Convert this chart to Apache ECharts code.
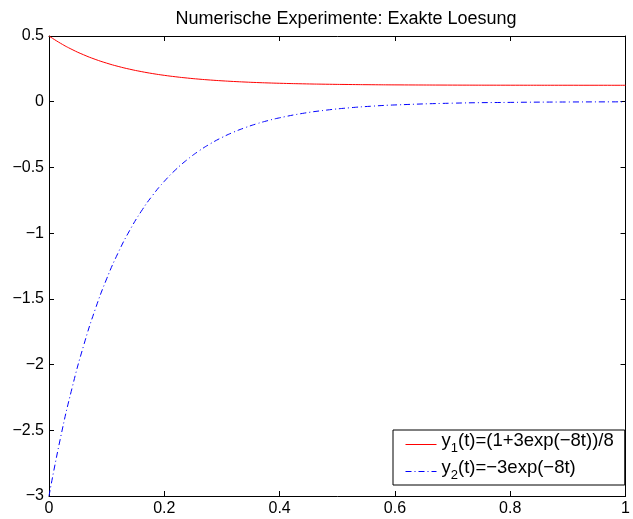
<!DOCTYPE html>
<html>
<head>
<meta charset="utf-8">
<script src="https://cdn.jsdelivr.net/npm/echarts@6/dist/echarts.min.js"></script>
<style>
  html, body { margin: 0; padding: 0; background: #fff; }
  #chart { width: 633px; height: 519px; }
</style>
</head>
<body>
<div id="chart"></div>
<script>
  // values
  const tValues = [0, 0.02, 0.04, 0.06, 0.08, 0.10, 0.12, 0.14, 0.16, 0.18, 0.20,
    0.22, 0.24, 0.26, 0.28, 0.30, 0.32, 0.34, 0.36, 0.38, 0.40,
    0.44, 0.48, 0.52, 0.56, 0.60, 0.70, 0.80, 0.90, 1.00];
  const y1Values = [0.5, 0.4445, 0.3973, 0.3571, 0.3227, 0.2935, 0.2686, 0.2474, 0.2293, 0.2138, 0.2007,
    0.1895, 0.1800, 0.1718, 0.1649, 0.1590, 0.1540, 0.1497, 0.1460, 0.1429, 0.1403,
    0.1361, 0.1331, 0.1309, 0.1292, 0.1281, 0.1264, 0.1256, 0.1253, 0.1251];
  const y2Values = [-3, -2.5563, -2.1783, -1.8564, -1.5819, -1.3479, -1.1487, -0.9789, -0.8340, -0.7107, -0.6057,
    -0.5160, -0.4398, -0.3747, -0.3195, -0.2721, -0.2319, -0.1977, -0.1683, -0.1434, -0.1224,
    -0.0888, -0.0645, -0.0468, -0.0339, -0.0246, -0.0111, -0.0051, -0.0021, -0.0009];
  const seriesNames = ['y1', 'y2'];
  const seriesColors = ['#ff0000', '#0000ff'];
  const legendLabels = {
    y1: '{main|y}{sub|1}{main|(t)=(1+3exp(\u22128t))/8}',
    y2: '{main|y}{sub|2}{main|(t)=\u22123exp(\u22128t)}'
  };

  const font = 'Liberation Sans, Arial, Helvetica, sans-serif';
  const minus = v => String(v).replace('-', '\u2212');
  const dashDot = [6, 3, 1, 3];

  function pairs(ys) {
    return tValues.map((t, i) => [t, ys[i]]);
  }

  function axisBase(extra) {
    return Object.assign({
      type: 'value',
      axisLine: {show: true, onZero: false, lineStyle: {color: '#000', width: 1}},
      axisTick: {show: true, inside: true, length: 5, lineStyle: {color: '#000'}},
      splitLine: {show: false},
      axisLabel: {show: false}
    }, extra);
  }

  const tickLabel = {color: '#000', fontSize: 16, fontFamily: font, margin: 5, formatter: minus};

  const chart = echarts.init(document.getElementById('chart'));
  chart.setOption({
    animation: false,
    title: {
      text: 'Numerische Experimente: Exakte Loesung',
      left: 341,
      top: 5,
      textAlign: 'center',
      textStyle: {fontSize: 18, fontWeight: 'normal', color: '#000', fontFamily: font}
    },
    grid: {left: 49, right: 1, top: 36, bottom: 23},
    xAxis: [
      axisBase({min: 0, max: 1, interval: 0.2, position: 'bottom', axisLabel: tickLabel}),
      axisBase({min: 0, max: 1, interval: 0.2, position: 'top'})
    ],
    yAxis: [
      axisBase({min: -3, max: 0.5, interval: 0.5, position: 'left', axisLabel: tickLabel}),
      axisBase({min: -3, max: 0.5, interval: 0.5, position: 'right'})
    ],
    legend: {
      orient: 'vertical',
      left: 393,
      top: 430,
      data: [
        {name: seriesNames[0], lineStyle: {color: seriesColors[0], width: 1, type: 'solid'}},
        {name: seriesNames[1], lineStyle: {color: seriesColors[1], width: 1, type: dashDot}}
      ],
      backgroundColor: '#fff',
      borderColor: '#000',
      borderWidth: 1,
      borderRadius: 0,
      padding: [1, 11, 0, 12],
      itemGap: 0,
      itemWidth: 31,
      itemHeight: 28,
      itemStyle: {opacity: 0},
      formatter: name => legendLabels[name],
      textStyle: {
        color: '#000',
        fontSize: 18.5,
        fontFamily: font,
        rich: {
          main: {fontSize: 18.5, fontFamily: font, color: '#000', lineHeight: 20, padding: [0, 0, 8, 0]},
          sub: {fontSize: 13, fontFamily: font, color: '#000', lineHeight: 13, padding: [8, 0, 0, 0]}
        }
      }
    },
    series: [
      {
        name: seriesNames[0],
        type: 'line',
        data: pairs(y1Values),
        smooth: true,
        symbol: 'none',
        color: seriesColors[0],
        lineStyle: {color: seriesColors[0], width: 1}
      },
      {
        name: seriesNames[1],
        type: 'line',
        data: pairs(y2Values),
        smooth: true,
        symbol: 'none',
        color: seriesColors[1],
        lineStyle: {color: seriesColors[1], width: 1, type: dashDot}
      }
    ]
  });
</script>
</body>
</html>
